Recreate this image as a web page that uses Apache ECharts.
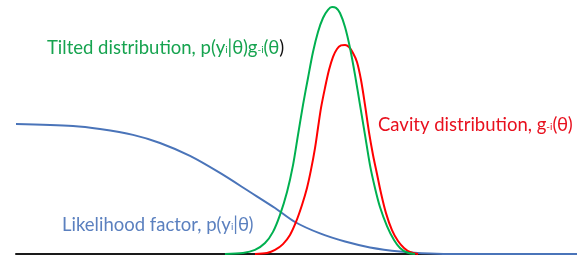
<!DOCTYPE html>
<html>
<head>
<meta charset="utf-8">
<script src="https://cdn.jsdelivr.net/npm/echarts@6/dist/echarts.min.js"></script>
<style>html,body{margin:0;padding:0;background:#fff;}#c{width:577px;height:256px;}</style>
</head>
<body>
<div id="c"></div>
<script>
// theta values (arbitrary units) and density values
const likelihoodTheta = [0.000, 1.016, 1.497, 2.086, 2.567, 3.102, 3.636, 4.171, 4.617, 4.973, 5.419, 5.865, 6.310, 6.845, 7.380, 7.914, 10.0];
const likelihoodValue = [0.512, 0.504, 0.492, 0.469, 0.437, 0.386, 0.319, 0.244, 0.181, 0.126, 0.081, 0.049, 0.026, 0.010, 0.002, 0.000, 0.000];

const tiltedTheta = [3.725, 4.046, 4.260, 4.439, 4.581, 4.706, 4.831, 4.938, 5.027, 5.116, 5.205, 5.294, 5.383, 5.472, 5.561, 5.633, 5.704, 5.775, 5.865, 5.954, 6.043, 6.132, 6.221, 6.310, 6.399, 6.488, 6.613, 6.738, 6.845, 6.970, 7.112];
const tiltedValue = [0.000, 0.004, 0.016, 0.043, 0.087, 0.154, 0.244, 0.350, 0.469, 0.587, 0.693, 0.795, 0.874, 0.929, 0.961, 0.972, 0.969, 0.949, 0.894, 0.811, 0.705, 0.587, 0.469, 0.350, 0.260, 0.185, 0.110, 0.055, 0.024, 0.006, 0.000];

const cavityTheta = [4.260, 4.474, 4.617, 4.759, 4.884, 4.991, 5.098, 5.187, 5.258, 5.330, 5.383, 5.437, 5.508, 5.579, 5.651, 5.722, 5.793, 5.865, 5.936, 6.007, 6.078, 6.150, 6.221, 6.292, 6.364, 6.435, 6.506, 6.595, 6.702, 6.809, 6.916, 7.023, 7.166];
const cavityValue = [0.000, 0.004, 0.016, 0.039, 0.075, 0.126, 0.193, 0.260, 0.331, 0.417, 0.496, 0.575, 0.654, 0.724, 0.776, 0.807, 0.821, 0.823, 0.815, 0.791, 0.756, 0.685, 0.587, 0.480, 0.390, 0.315, 0.240, 0.161, 0.094, 0.051, 0.024, 0.008, 0.000];

const thetaRange = [0, 10];
const valueRange = [0, 1];

const zip = (xs, ys) => xs.map((x, i) => [x, ys[i]]);

const BLUE = '#4a74b9', GREEN = '#00b050', RED = '#ff0000';
const FONT = 'Lato';
const FS = 18.5, SFS = 10, LH = 22;

const chart = echarts.init(document.getElementById('c'), null, {renderer: 'canvas'});
chart.setOption({
  animation: false,
  backgroundColor: '#fff',
  grid: {left: 16, right: 0, top: 0, bottom: 2, containLabel: false},
  xAxis: {
    type: 'value', min: thetaRange[0], max: thetaRange[1],
    axisLine: {show: true, lineStyle: {color: '#1a1a1a', width: 2}},
    axisTick: {show: false}, axisLabel: {show: false}, splitLine: {show: false}
  },
  yAxis: {
    type: 'value', min: valueRange[0], max: valueRange[1],
    axisLine: {show: false}, axisTick: {show: false}, axisLabel: {show: false}, splitLine: {show: false}
  },
  series: [
    {type: 'line', name: 'Likelihood', data: zip(likelihoodTheta, likelihoodValue), smooth: 0.3, symbol: 'none', lineStyle: {color: BLUE, width: 2}, z: 3},
    {type: 'line', name: 'Cavity', data: zip(cavityTheta, cavityValue), smooth: 0.3, symbol: 'none', lineStyle: {color: RED, width: 2}, z: 4},
    {type: 'line', name: 'Tilted', data: zip(tiltedTheta, tiltedValue), smooth: 0.3, symbol: 'none', lineStyle: {color: GREEN, width: 2}, z: 5}
  ],
  graphic: [
    {
      type: 'text', left: 47, top: 39, z: 10,
      style: {
        text: '{a|Tilted distribution, p(y}{s|i}{a||θ)g}{s|-i}{a|(θ}{k|)}',
        rich: {
          a: {fontFamily: FONT, fontSize: FS, fill: '#16a34f', lineHeight: LH, verticalAlign: 'bottom'},
          s: {fontFamily: FONT, fontSize: SFS, fill: '#16a34f', lineHeight: LH, verticalAlign: 'bottom', padding: [0, 0, 3, 0]},
          k: {fontFamily: FONT, fontSize: FS, fill: '#111', lineHeight: LH, verticalAlign: 'bottom'}
        }
      }
    },
    {
      type: 'text', left: 378, top: 116, z: 10,
      style: {
        text: '{a|Cavity distribution, g}{s|-i}{a|(θ)}',
        rich: {
          a: {fontFamily: FONT, fontSize: FS, fill: '#e8101e', lineHeight: LH, verticalAlign: 'bottom'},
          s: {fontFamily: FONT, fontSize: SFS, fill: '#e8101e', lineHeight: LH, verticalAlign: 'bottom', padding: [0, 0, 3, 0]}
        }
      }
    },
    {
      type: 'text', left: 62, top: 216, z: 10,
      style: {
        text: '{a|Likelihood factor, p(y}{s|i}{a||θ)}',
        rich: {
          a: {fontFamily: FONT, fontSize: FS, fill: '#5b80bf', lineHeight: LH, verticalAlign: 'bottom'},
          s: {fontFamily: FONT, fontSize: SFS, fill: '#5b80bf', lineHeight: LH, verticalAlign: 'bottom', padding: [0, 0, 3, 0]}
        }
      }
    }
  ]
});
</script>
</body>
</html>
